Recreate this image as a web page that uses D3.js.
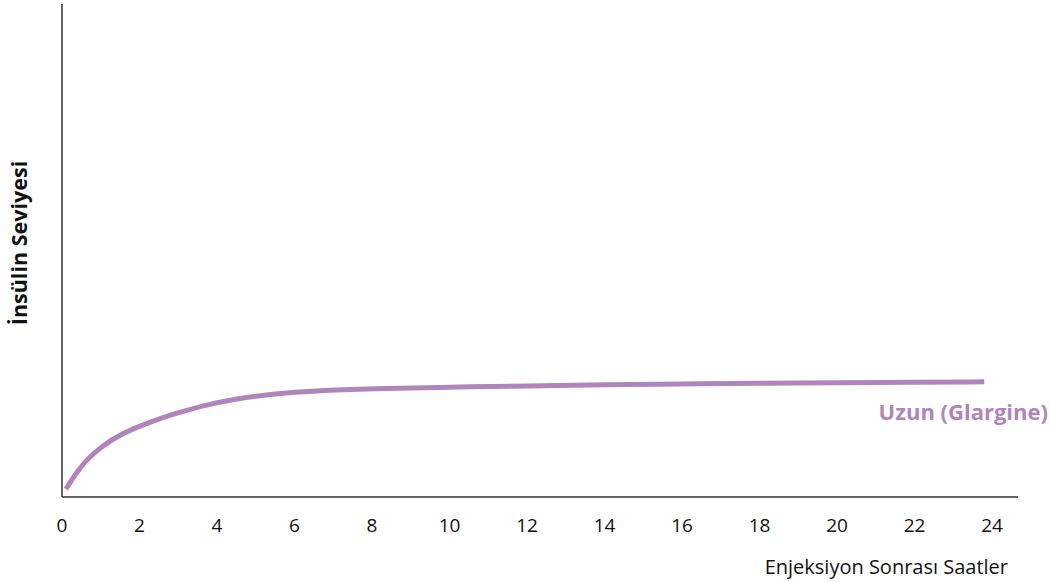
<!DOCTYPE html>
<html><head><meta charset="utf-8">
<script src="https://cdn.jsdelivr.net/npm/d3@7"></script>
<style>body{margin:0;background:#fff}svg{display:block}text{font-family:"Open Sans","Noto Sans",sans-serif}</style>
</head><body><svg id="c" width="1050" height="582"></svg>
<script>
const hours  = [0.1, 0.35, 0.6, 1, 1.5, 2, 2.5, 3, 3.6, 4.5, 5.5, 6.5, 8, 10, 12, 14, 16, 18, 20, 22, 23.8];
const levels = [1.6, 4.7, 7.3, 10.2, 12.7, 14.4, 15.9, 17.1, 18.5, 20.0, 21.0, 21.6, 22.0, 22.3, 22.6, 22.8, 23.0, 23.1, 23.2, 23.3, 23.4];
const tickValues = [0, 2, 4, 6, 8, 10, 12, 14, 16, 18, 20, 22, 24];
const seriesName = "Uzun (Glargine)";
const xTitle = "Enjeksiyon Sonrası Saatler";
const yTitle = "İnsülin Seviyesi";

const svg = d3.select("#c");
const x = d3.scaleLinear().domain([0, 24]).range([62, 992]);
const y = d3.scaleLinear().domain([0, 100]).range([497, 5]);
const color = "#b085bc";

// axes lines
svg.append("line").attr("x1", 62).attr("x2", 62).attr("y1", 4).attr("y2", 497)
  .attr("stroke", "#333").attr("stroke-width", 1.5);
svg.append("line").attr("x1", 62).attr("x2", 1018).attr("y1", 497).attr("y2", 497)
  .attr("stroke", "#333").attr("stroke-width", 1.5);

// tick labels
svg.append("g").selectAll("text").data(tickValues).join("text")
  .attr("x", d => x(d)).attr("y", 532).attr("text-anchor", "middle")
  .attr("font-size", 19).attr("fill", "#111").text(d => d);

// line
const data = hours.map((h, i) => ({h, v: levels[i]}));
svg.append("path").datum(data)
  .attr("fill", "none").attr("stroke", color).attr("stroke-width", 5)
  .attr("d", d3.line().x(d => x(d.h)).y(d => y(d.v)).curve(d3.curveBasis));

// series label
svg.append("text").attr("x", 1048).attr("y", 420).attr("text-anchor", "end")
  .attr("font-size", 22).attr("font-weight", "bold").attr("fill", color).text(seriesName);

// axis titles
svg.append("text").attr("x", 1008).attr("y", 574).attr("text-anchor", "end")
  .attr("font-size", 20).attr("fill", "#111").text(xTitle);
svg.append("text").attr("transform", "translate(27,243) rotate(-90)").attr("text-anchor", "middle")
  .attr("font-size", 21.5).attr("font-weight", "bold").attr("fill", "#111").text(yTitle);
</script></body></html>
